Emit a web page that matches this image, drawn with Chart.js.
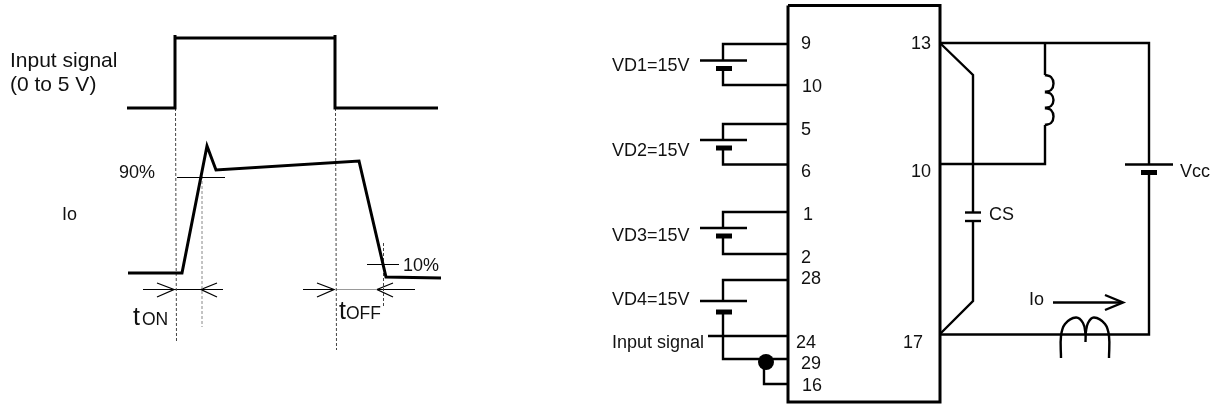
<!DOCTYPE html>
<html>
<head>
<meta charset="utf-8">
<title>Switching time test circuit</title>
<script src="https://cdn.jsdelivr.net/npm/chart.js@4/dist/chart.umd.min.js"></script>
<style>
  html, body { margin: 0; padding: 0; background: #fff; overflow: hidden; }
  canvas { display: block; }
</style>
</head>
<body>
<canvas id="chart" width="1223" height="408"></canvas>
<script>
// Waveforms (left part)
const inputSignal = [[127, 108], [175, 108], [175, 35], [175, 38], [335, 38], [335, 35], [335, 108], [438, 108]];
const ioCurrent = [[128, 273], [182, 273], [207, 146], [216, 170], [359, 161], [386, 277], [441, 278]];
const level90 = [[177, 177.5], [225, 177.5]];
const level10 = [[367, 264.5], [399, 264.5]];
const guideOn = [[175.5, 108], [176.5, 343]];
const guideOff = [[335.5, 108], [336.5, 350]];
const guideOnEnd = [[202, 176], [202, 327]];
const guideOffEnd = [[383.5, 243], [383.5, 307]];
const spanOn = [[174, 289.5], [201, 289.5]];
const spanOff = [[336, 289.5], [377, 289.5]];
const arrowOnLeft = [[143, 289.5], [174, 289.5]];
const headOnLeft = [[157, 283], [174, 289.5], [157, 297]];
const arrowOnRight = [[201, 289.5], [223, 289.5]];
const headOnRight = [[217, 283], [201, 289.5], [217, 297]];
const arrowOffLeft = [[303, 289.5], [334, 289.5]];
const headOffLeft = [[317, 283], [334, 289.5], [317, 297]];
const arrowOffRight = [[377, 289.5], [415, 289.5]];
const headOffRight = [[393, 283], [377, 289.5], [393, 297]];

// Circuit (right part)
const icBox = [[788, 5.5], [940, 5.5], [940, 402], [788, 402], [788, 5.5]];
const vd1Wires = [[[788, 44], [723, 44], [723, 60]], [[723, 68], [723, 85], [788, 85]]];
const vd2Wires = [[[788, 124], [723, 124], [723, 140]], [[723, 148], [723, 164.5], [788, 164.5]]];
const vd3Wires = [[[788, 212], [723, 212], [723, 228]], [[723, 236], [723, 254], [788, 254]]];
const vd4Wires = [[[788, 280], [723, 280], [723, 301]], [[723, 312], [723, 359], [788, 359]]];
const inputWire = [[708, 336], [788, 336]];
const pin16Wire = [[764, 362], [764, 384], [788, 384]];
const junction = [[766, 362]];
const batteryLong = [
  [[700, 60.5], [747, 60.5]], [[700, 140], [747, 140]], [[700, 228], [747, 228]],
  [[700, 301], [747, 301]], [[1125, 164.5], [1173, 164.5]]
];
const batteryShort = [
  [[716, 68.5], [732, 68.5]], [[716, 148], [732, 148]], [[716, 236], [732, 236]],
  [[716, 312], [732, 312]], [[1141, 172.5], [1157, 172.5]]
];
const supplyWires = [[[940, 43], [1149, 43], [1149, 164]], [[1149, 172], [1149, 334.5], [940, 334.5]]];
const snubberTop = [[940, 43], [973, 75], [973, 212]];
const snubberBottom = [[973, 221], [973, 301], [940, 334]];
const capPlates = [[[965, 212.5], [981, 212.5]], [[965, 221], [981, 221]]];
const coilWires = [[[1045, 43], [1045, 75]], [[1045, 125], [1045, 164], [940, 164]]];
const coilHumps = [
  [[1045, 75], [1051, 77], [1053.5, 83.5], [1051, 90], [1045, 92]],
  [[1045, 92], [1051, 94], [1053.5, 100], [1051, 106], [1045, 108]],
  [[1045, 108], [1051, 110], [1053.5, 116.5], [1051, 123], [1045, 125]]
];
const sensorHumps = [
  [[1061, 358], [1061, 336], [1065, 324], [1076, 317.5], [1083, 323], [1085.5, 334], [1085.5, 342]],
  [[1085.5, 334], [1088, 323], [1094, 317.5], [1105, 324], [1109, 336], [1109, 358]]
];
const ioArrow = [[1053, 302.5], [1122, 302.5]];
const ioHead = [[1105, 295], [1123, 302.5], [1105, 310]];

// Text
const bigTexts = ['Input signal', '(0 to 5 V)'];
const bigTextX = [10, 10];
const bigTextY = [67, 91];
const labelTexts = ['90%', '10%', 'VD1=15V', 'VD2=15V', 'VD3=15V', 'VD4=15V', 'Input signal', 'Vcc', 'CS', 'Io', 'Io'];
const labelX = [119, 403, 612, 612, 612, 612, 612, 1180, 989, 1029, 62];
const labelY = [178, 271, 71, 156, 241, 305, 348, 177, 220, 305, 220];
const pinTexts = ['9', '10', '5', '6', '1', '2', '28', '24', '29', '16', '17', '13', '10'];
const pinX = [801, 802, 801, 801, 803, 801, 801, 796, 801, 802, 903, 911, 911];
const pinY = [49, 92, 135, 177, 220, 263, 284, 348, 369, 391, 348, 49, 177];
const timeTexts = ['t', 't'];
const timeX = [133, 339];
const timeY = [325, 319];
const timeSubs = ['ON', 'OFF'];
const timeSubX = [142, 346];

const FONT = '"Liberation Sans", Arial, sans-serif';
const BLACK = '#000';

function path(points, width, extra) {
  return Object.assign({
    data: points.map(p => ({ x: p[0], y: p[1] })),
    borderColor: BLACK,
    borderWidth: width,
    pointRadius: 0,
    showLine: true,
    fill: false,
    tension: 0,
    borderJoinStyle: 'miter'
  }, extra || {});
}

const dashed = { borderDash: [3, 2], borderColor: '#444' };
const dashedGrey = { borderDash: [3, 2], borderColor: '#888' };
const curved = { tension: 0.4 };

const datasets = [
  path(inputSignal, 3),
  path(ioCurrent, 3),
  path(level90, 1),
  path(level10, 1),
  path(guideOn, 1, dashed),
  path(guideOff, 1, dashed),
  path(guideOnEnd, 1, dashedGrey),
  path(guideOffEnd, 1, dashed),
  path(spanOn, 1),
  path(spanOff, 1, { borderColor: '#999' }),
  path(arrowOnLeft, 1),
  path(headOnLeft, 1.3),
  path(arrowOnRight, 1),
  path(headOnRight, 1.3),
  path(arrowOffLeft, 1),
  path(headOffLeft, 1.3),
  path(arrowOffRight, 1),
  path(headOffRight, 1.3),
  path(icBox, 3),
  path(inputWire, 2.4),
  path(pin16Wire, 2.4),
  path(snubberTop, 2.4),
  path(snubberBottom, 2.4),
  path(ioArrow, 2.4),
  path(ioHead, 2.4),
  {
    data: junction.map(p => ({ x: p[0], y: p[1] })),
    pointRadius: 8,
    pointBackgroundColor: BLACK,
    pointBorderWidth: 0,
    showLine: false
  }
];

[vd1Wires, vd2Wires, vd3Wires, vd4Wires, supplyWires, capPlates, coilWires, batteryLong].forEach(group => {
  group.forEach(p => datasets.push(path(p, 2.4)));
});
batteryShort.forEach(p => datasets.push(path(p, 5)));
coilHumps.forEach(p => datasets.push(path(p, 2.4, curved)));
sensorHumps.forEach(p => datasets.push(path(p, 2.4, curved)));

// Chart.js has no free text mark, so texts are placed through the scales here
const textPlugin = {
  id: 'diagramText',
  afterDatasetsDraw(chart) {
    const { ctx, scales } = chart;
    const put = (texts, xs, ys, size) => {
      ctx.font = size + 'px ' + FONT;
      texts.forEach((t, i) => {
        ctx.fillText(t, scales.x.getPixelForValue(xs[i]), scales.y.getPixelForValue(ys[i]));
      });
    };
    ctx.save();
    ctx.fillStyle = '#111';
    ctx.textBaseline = 'alphabetic';
    put(bigTexts, bigTextX, bigTextY, 21);
    put(labelTexts, labelX, labelY, 18);
    put(pinTexts, pinX, pinY, 18);
    put(timeTexts, timeX, timeY, 25);
    put(timeSubs, timeSubX, timeY, 17.5);
    ctx.restore();
  }
};

new Chart(document.getElementById('chart'), {
  type: 'scatter',
  data: { datasets },
  plugins: [textPlugin],
  options: {
    responsive: false,
    animation: false,
    layout: { padding: 0, autoPadding: false },
    plugins: { legend: { display: false }, tooltip: { enabled: false } },
    scales: {
      x: { type: 'linear', min: 0, max: 1223, display: false },
      y: { type: 'linear', min: 0, max: 408, reverse: true, display: false }
    }
  }
});
</script>
</body>
</html>
